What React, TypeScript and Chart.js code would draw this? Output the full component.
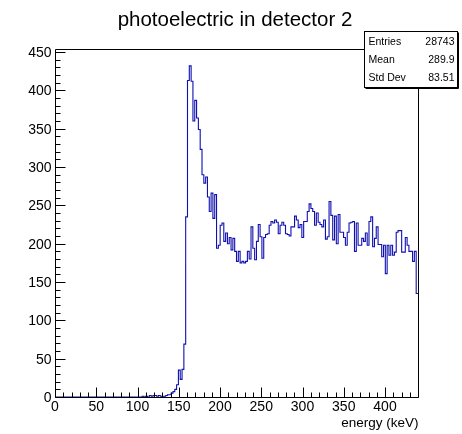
import React, { useEffect, useRef } from 'react';
import { Chart, registerables } from 'chart.js';

Chart.register(...registerables);

const TITLE = 'photoelectric in detector 2';
const X_TITLE = 'energy (keV)';
const X_MIN = 0;
const X_MAX = 440;
const Y_MIN = 0;
const Y_MAX = 454;
const BIN_WIDTH = 2.2;
const X_TICK_LABELS = [0, 50, 100, 150, 200, 250, 300, 350, 400];
const Y_TICK_LABELS = [0, 50, 100, 150, 200, 250, 300, 350, 400, 450];
const STATS_LABELS = ['Entries', 'Mean', 'Std Dev'];
const STATS_VALUES = ['28743', '289.9', '83.51'];

// counts per 2.2 keV bin, 0 - 440 keV (200 bins)
const COUNTS_LOW = [
  0, 0, 0, 0, 0, 0, 0, 0, 0, 0, 0, 0, 0, 0, 0, 0, 0, 0, 0, 0, 0, 0, 0, 0,
  0, 0, 0, 0, 0, 0, 0, 0, 0, 0, 0, 0, 0, 0, 0, 0, 0, 0, 0, 0, 0, 0, 0, 0,
];
const COUNTS_RISE = [
  1, 0, 1, 0, 2, 1, 2, 2, 1, 2, 1, 0, 1, 2, 3, 3, 5, 7, 10, 16, 35, 23, 36, 69,
];
const COUNTS_PEAK = [
  235, 413, 432, 412, 360, 387, 364, 349, 323, 290, 279, 287, 261, 242, 266, 233, 264,
];
const COUNTS_PLATEAU = [
  194, 198, 224, 227, 203, 214, 200, 208, 192, 207, 190, 177, 190, 175, 177, 175,
  177, 190, 180, 222, 194, 179, 203, 225, 209, 181, 208, 212, 213, 224, 229, 227,
  231, 228, 213, 224, 228, 224, 213, 212, 210, 222, 222, 236, 231, 221, 225, 208,
  229, 229, 242, 252, 246, 242, 224, 240, 228, 225, 222, 231, 206, 209, 255, 237,
  205, 236, 200, 238, 215, 215, 208, 198, 215, 227, 228, 229, 190, 227, 198, 198,
  207, 203, 214, 198, 229, 235, 196, 207, 222, 199, 199, 183, 198, 161, 198, 185,
  198, 185, 189, 215, 217, 217, 189, 189, 208, 198, 190, 190, 177, 190, 135,
];
const COUNTS = [...COUNTS_LOW, ...COUNTS_RISE, ...COUNTS_PEAK, ...COUNTS_PLATEAU];

const FONT = "'Liberation Sans', Arial, Helvetica, sans-serif";

const rootFramePlugin = {
  id: 'rootFrame',
  afterDraw(chart: any) {
    const { ctx, chartArea: a } = chart;
    const xs = chart.scales.x;
    const ys = chart.scales.y;
    const L = Math.round(a.left) + 0.5;
    const R = Math.round(a.right) + 0.5;
    const T = Math.round(a.top) + 0.5;
    const B = Math.round(a.bottom) + 0.5;
    ctx.save();
    ctx.lineWidth = 1;
    ctx.strokeStyle = '#000';
    ctx.beginPath();
    ctx.rect(L, T, R - L, B - T);
    ctx.stroke();

    // ticks
    ctx.beginPath();
    for (let i = 0; i * 10 <= X_MAX; i++) {
      const v = i * 10;
      const px = Math.round(xs.getPixelForValue(v)) + 0.5;
      const len = v % 50 === 0 ? 10 : 5;
      ctx.moveTo(px, B);
      ctx.lineTo(px, B - len);
    }
    for (let i = 0; i * 10 <= Y_MAX; i++) {
      const v = i * 10;
      const py = Math.round(ys.getPixelForValue(v)) + 0.5;
      const len = v % 50 === 0 ? 10 : 5;
      ctx.moveTo(L, py);
      ctx.lineTo(L + len, py);
    }
    ctx.stroke();

    // tick labels
    ctx.fillStyle = '#000';
    ctx.font = `14px ${FONT}`;
    ctx.textAlign = 'center';
    ctx.textBaseline = 'top';
    X_TICK_LABELS.forEach((v) => {
      ctx.fillText(String(v), xs.getPixelForValue(v), B + 3);
    });
    ctx.textAlign = 'right';
    ctx.textBaseline = 'middle';
    Y_TICK_LABELS.forEach((v) => {
      ctx.fillText(String(v), L - 4, ys.getPixelForValue(v) + 1);
    });

    // axis title
    ctx.font = `13.5px ${FONT}`;
    ctx.textAlign = 'right';
    ctx.textBaseline = 'middle';
    ctx.fillText(X_TITLE, R, B + 26);

    // title
    ctx.font = `20.5px ${FONT}`;
    ctx.textAlign = 'center';
    ctx.textBaseline = 'middle';
    ctx.fillText(TITLE, 235, 20);

    // stats box
    const bx = 364.5, by = 31.5, bw = 93, bh = 56;
    ctx.fillStyle = '#fff';
    ctx.fillRect(bx, by, bw, bh);
    ctx.strokeStyle = '#000';
    ctx.lineWidth = 1;
    ctx.strokeRect(bx, by, bw, bh);
    ctx.beginPath();
    ctx.moveTo(bx + 1, by + bh + 1);
    ctx.lineTo(bx + bw + 1, by + bh + 1);
    ctx.lineTo(bx + bw + 1, by + 1);
    ctx.stroke();
    ctx.fillStyle = '#000';
    ctx.font = `10.5px ${FONT}`;
    ctx.textBaseline = 'middle';
    STATS_LABELS.forEach((lab, i) => {
      const yy = by + 11 + i * 18;
      ctx.textAlign = 'left';
      ctx.fillText(lab, bx + 4, yy);
      ctx.textAlign = 'right';
      ctx.fillText(STATS_VALUES[i], bx + bw - 3, yy);
    });
    ctx.restore();
  },
};

export default function App() {
  const ref = useRef<HTMLCanvasElement | null>(null);
  useEffect(() => {
    if (!ref.current) return;
    const points = COUNTS.map((c, k) => ({ x: k * BIN_WIDTH, y: c }));
    points.push({ x: X_MAX, y: COUNTS[COUNTS.length - 1] });
    const chart = new Chart(ref.current, {
      type: 'line',
      data: {
        datasets: [
          {
            data: points,
            borderColor: '#1010b0',
            borderWidth: 1.1,
            pointRadius: 0,
            fill: false,
            stepped: 'before',
            tension: 0,
          },
        ],
      },
      options: {
        responsive: false,
        animation: false,
        devicePixelRatio: 1,
        layout: { padding: { left: 55, right: 44, top: 49, bottom: 37 } },
        scales: {
          x: { type: 'linear', min: X_MIN, max: X_MAX, display: false },
          y: { type: 'linear', min: Y_MIN, max: Y_MAX, display: false },
        },
        plugins: {
          legend: { display: false },
          tooltip: { enabled: false },
          title: { display: false },
        },
      },
      plugins: [rootFramePlugin],
    } as any);
    return () => chart.destroy();
  }, []);
  return (
    <div style={{ position: 'absolute', left: 0, top: 0, width: 462, height: 434, background: '#fff' }}>
      <canvas ref={ref} width={462} height={434} />
    </div>
  );
}
